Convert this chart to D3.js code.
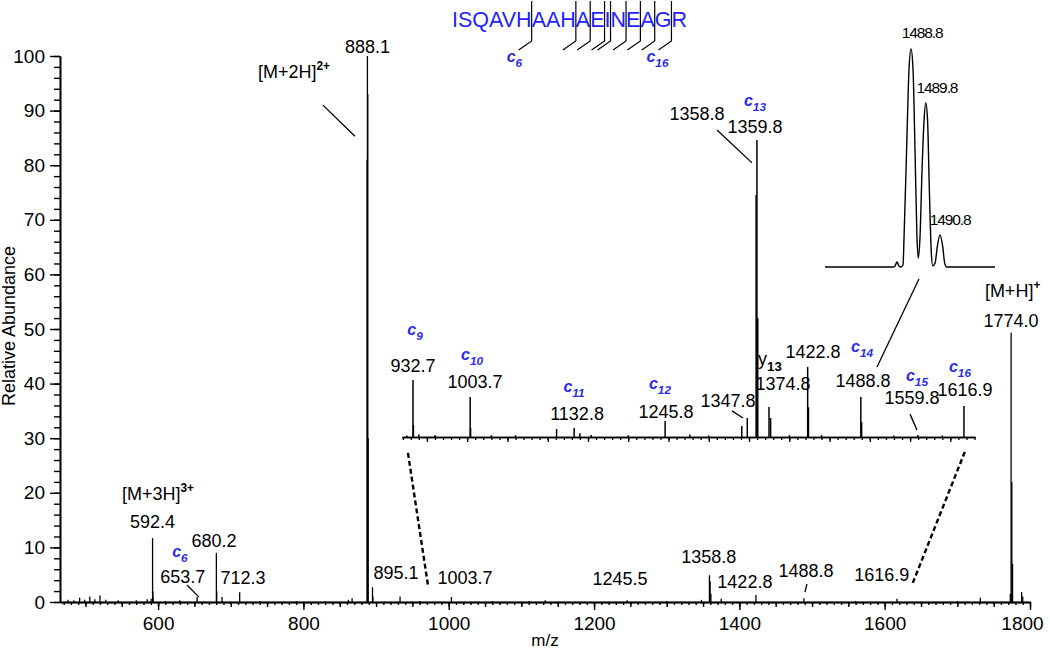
<!DOCTYPE html>
<html><head><meta charset="utf-8">
<script src="https://cdn.jsdelivr.net/npm/d3@7"></script>
<style>
body{margin:0;background:#fff}
svg{display:block}
text{font-family:"Liberation Sans",Arial,Helvetica,sans-serif}
</style>
</head><body>
<svg id="chart" width="1050" height="652"></svg>
<script>
// ---------------- DATA ----------------
// Main spectrum sticks (m/z, relative abundance %)
const mainMz = [476,484,492,499,506,513,520,528,545,570,585,590.4,592.4,592.8,593.1,610,630,653.7,680.2,680.7,688,712.3,740,790,830,862,867,887.6,888.1,888.6,889.1,895.1,895.6,933,960,1003.7,1060,1111,1132.8,1245.5,1300,1347.8,1358.8,1359.8,1360.8,1375,1422.8,1488.8,1560,1616.9,1700,1731.6,1772.9,1774.0,1775.0,1776.0,1788.5,1790];
const mainInt = [0.4,0.3,0.8,0.4,1.0,0.5,1.2,0.4,0.3,0.3,0.5,0.6,11.7,2.0,0.8,0.2,0.3,0.9,9.0,2.0,0.9,1.8,0.2,0.2,0.2,0.4,0.7,81,100,93,30,2.7,1.0,1.0,0.2,0.9,0.2,0.2,0.3,0.3,0.2,0.4,4.9,3.8,1.5,0.6,1.3,0.7,0.2,0.6,0.2,0.8,1.5,49.3,22,7,1.8,1.0];

// Zoomed inset spectrum (m/z 920-1630), intensity relative to 1359.8 = 100
const insetMz = [925,932.7,933.2,940,960,1003.7,1004.2,1030,1060,1111,1132.8,1140,1154,1200,1245.8,1276.6,1300,1341,1347.8,1358.8,1359.8,1360.8,1374.8,1376.8,1400,1422.8,1423.8,1440,1488.8,1489.8,1530,1559.8,1590,1616.9];
const insetInt = [0.5,19.2,4,0.8,0.7,13.5,3,0.6,0.6,2.7,3.0,1.3,0.7,0.6,5.4,0.8,0.5,3.7,6.4,81.5,100,40,10.1,6.4,0.6,23.6,10,0.6,13.5,5,0.5,0.7,0.5,10.4];

// Isotope profile of c14 (m/z, intensity relative to 1488.8 = 100)
const isoMz  = [1482.87,1487.56,1487.70,1487.83,1487.97,1488.11,1488.25,1488.32,1488.49,1488.66,1488.80,1488.94,1489.08,1489.21,1489.30,1489.42,1489.56,1489.70,1489.82,1489.94,1490.06,1490.20,1490.30,1490.46,1490.61,1490.80,1490.99,1491.12,1491.26,1494.59];
const isoInt = [0,0,0.5,2.3,0.5,0,0.9,13.8,52.3,90.4,100,90.4,52.3,13.8,4.1,13.8,44.5,67.4,75.2,67.4,36.7,6.4,0.5,1.8,9.2,14.7,9.2,1.8,0,0];

// Peptide sequence and c-ion cleavage sites
const sequence = "ISQAVHAAHAEINEAGR";
const cleavages = [6,9,10,11,12,13,14,15,16];
const seqLabelled = [6,16];

// Tick values
const xMajorTicks = [600,800,1000,1200,1400,1600,1800];
const yMajorTicks = [0,10,20,30,40,50,60,70,80,90,100];

// Annotations (text, m/z, level in axis units)
const mainLabels = [
  {t:"888.1", mz:888.1, v:100.5},
  {t:"[M+2H]^{2+}", mz:737.5, v:96, a:"start"},
  {t:"[M+3H]^{3+}", mz:550.3, v:18.7, a:"start"},
  {t:"592.4", mz:592.4, v:13.6},
  {t:"653.7", mz:634, v:3.5},
  {t:"680.2", mz:677, v:10.1},
  {t:"712.3", mz:716.8, v:3.3},
  {t:"895.1", mz:927.4, v:4.2},
  {t:"1003.7", mz:1022.3, v:3.3},
  {t:"1245.5", mz:1235.6, v:3.1},
  {t:"1358.8", mz:1358, v:7.1},
  {t:"1422.8", mz:1407.6, v:2.6},
  {t:"1488.8", mz:1491.6, v:4.6},
  {t:"1616.9", mz:1596.1, v:3.8},
  {t:"[M+H]^{+}", mz:1737.9, v:55.9, a:"start"},
  {t:"1774.0", mz:1774, v:50.4},
  {t:"c_{6}", mz:630.1, v:8.2, ion:true}
];
const mainLeaders = [
  [[826.9,91.0],[870.9,85.3]],
  [[639.8,3.1],[656.3,0.9]],
  [[1493,3.3],[1490.3,1.8]]
];
const dashedLinks = [
  [[943.9,27.3],[971.4,3.1]],
  [[1710.3,27.5],[1638.7,3.5]]
];
const insetLabels = [
  {t:"c_{9}", mz:935.2, v:34.3, ion:true},
  {t:"932.7", mz:932.7, v:21.9},
  {t:"c_{10}", mz:1006.0, v:25.9, ion:true},
  {t:"1003.7", mz:1009.7, v:16.5},
  {t:"c_{11}", mz:1132.6, v:15.2, ion:true},
  {t:"1132.8", mz:1136.4, v:5.7},
  {t:"c_{12}", mz:1239.4, v:16.2, ion:true},
  {t:"1245.8", mz:1246.9, v:6.4},
  {t:"1347.8", mz:1323.9, v:10.1},
  {t:"1358.8", mz:1285.4, v:106.7},
  {t:"c_{13}", mz:1357.4, v:111.4, ion:true},
  {t:"1359.8", mz:1357.4, v:102.4},
  {t:"y_{13}", mz:1376.0, v:24.2},
  {t:"1374.8", mz:1392.2, v:15.8},
  {t:"1422.8", mz:1429.4, v:26.6},
  {t:"c_{14}", mz:1490.3, v:28.6, ion:true},
  {t:"1488.8", mz:1491.5, v:16.8},
  {t:"c_{15}", mz:1558.5, v:18.9, ion:true},
  {t:"1559.8", mz:1552.3, v:11.1},
  {t:"c_{16}", mz:1611.9, v:21.9, ion:true},
  {t:"1616.9", mz:1618.2, v:13.8}
];
const insetLeaders = [
  [[1328.8,8.8],[1342.5,6.4]],
  [[1310.2,103.4],[1353.7,92.3]],
  [[1549.9,7.7],[1558.5,2.4]],
  [[1508.9,23.6],[1561.0,53.2]]
];
const isoLabels = [
  {t:"1488.8", mz:1489.56, v:105},
  {t:"1489.8", mz:1490.59, v:79.8},
  {t:"1490.8", mz:1491.49, v:19.3}
];

// ---------------- DRAWING ----------------
const svg = d3.select("#chart");
const BLUE = "#1f1fff", ION = "#2b2bea";
const FONT = "Liberation Sans, Arial, sans-serif";

const x = d3.scaleLinear().domain([465,1800]).range([60,1030]);
const y = d3.scaleLinear().domain([0,100]).range([602,56]);
const xi = d3.scaleLinear().domain([919.04,1630.6]).range([402,975]);
const yi = d3.scaleLinear().domain([0,100]).range([437,140]);
const xs = d3.scaleLinear().domain([1482.87,1494.59]).range([825,995]);
const ys = d3.scaleLinear().domain([0,100]).range([267,49]);

function rich(g, str, px, py, size, anchor, fill, opts={}) {
  const t = g.append("text").attr("x",px).attr("y",py)
    .attr("text-anchor",anchor||"middle").attr("font-size",size).attr("fill",fill||"#000");
  if (opts.italic) t.attr("font-style","italic");
  if (opts.bold) t.attr("font-weight","bold");
  if (opts.ls) t.attr("letter-spacing",opts.ls);
  const parts = str.split(/(\^\{[^}]*\}|_\{[^}]*\})/).filter(s=>s.length);
  let shift = 0;
  parts.forEach(p=>{
    if (p.startsWith("^{")) {
      t.append("tspan").text(p.slice(2,-1)).attr("font-size",size*0.66).attr("dy",-size*0.42 - shift).attr("font-weight","bold");
      shift = -size*0.42;
    } else if (p.startsWith("_{")) {
      t.append("tspan").text(p.slice(2,-1)).attr("font-size",size*0.74).attr("dy",size*0.32 - shift).attr("font-weight","bold");
      shift = size*0.32;
    } else {
      t.append("tspan").text(p).attr("dy",-shift);
      shift = 0;
    }
  });
  return t;
}

// ---- main axes ----
const gx = svg.append("g").attr("transform",`translate(0,${y(0)})`);
gx.call(d3.axisBottom(x).tickValues(d3.range(470,1800,10)).tickSize(3).tickSizeOuter(0).tickFormat(""));
gx.append("g").call(d3.axisBottom(x).tickValues(d3.range(500,1801,50)).tickSize(5).tickSizeOuter(0).tickFormat(""));
const xLab = gx.append("g").call(d3.axisBottom(x).tickValues(xMajorTicks).tickSize(8).tickSizeOuter(0).tickPadding(7).tickFormat(d3.format("d")));
xLab.selectAll("text").attr("font-size",19).attr("fill","#000").attr("font-family",FONT)
  .attr("dx",d=>d===1800?-8:0);
gx.selectAll("path,line").attr("stroke","#000").attr("stroke-width",1.4);
gx.selectAll(".domain").attr("stroke-width",1.6);

const gy = svg.append("g").attr("transform",`translate(${x.range()[0]},0)`);
gy.call(d3.axisLeft(y).tickValues(d3.range(0,101,2)).tickSize(6).tickSizeOuter(0).tickFormat(""));
gy.append("g").call(d3.axisLeft(y).tickValues(yMajorTicks).tickSize(10).tickSizeOuter(0).tickPadding(5).tickFormat(d3.format("d")))
  .selectAll("text").attr("font-size",19).attr("fill","#000").attr("font-family",FONT);
gy.selectAll("path,line").attr("stroke","#000").attr("stroke-width",1.4);
gy.selectAll(".domain").attr("stroke-width",1.6);

svg.append("text").attr("x",(x.range()[0]+x.range()[1])/2).attr("y",646)
  .attr("text-anchor","middle").attr("font-size",17).text("m/z");
svg.append("text").attr("transform","translate(15,326) rotate(-90)")
  .attr("text-anchor","middle").attr("font-size",18).text("Relative Abundance");

// ---- main sticks ----
const mainData = mainMz.map((m,i)=>({mz:m, v:mainInt[i]}));
svg.append("g").selectAll("line").data(mainData).join("line")
  .attr("x1",d=>x(d.mz)).attr("x2",d=>x(d.mz))
  .attr("y1",y(0)).attr("y2",d=>y(d.v))
  .attr("stroke","#000").attr("stroke-width",1.3);

// main labels
const gml = svg.append("g");
mainLabels.forEach(l=>{
  if (l.ion) rich(gml, l.t, x(l.mz), y(l.v), 16, "middle", ION, {italic:true,bold:true});
  else rich(gml, l.t, x(l.mz), y(l.v), 18, l.a||"middle", "#000");
});
svg.append("g").selectAll("line").data(mainLeaders).join("line")
  .attr("x1",d=>x(d[0][0])).attr("y1",d=>y(d[0][1]))
  .attr("x2",d=>x(d[1][0])).attr("y2",d=>y(d[1][1]))
  .attr("stroke","#000").attr("stroke-width",1.3);
svg.append("g").selectAll("line").data(dashedLinks).join("line")
  .attr("x1",d=>x(d[0][0])).attr("y1",d=>y(d[0][1]))
  .attr("x2",d=>x(d[1][0])).attr("y2",d=>y(d[1][1]))
  .attr("stroke","#000").attr("stroke-width",2.4).attr("stroke-dasharray","5,3");

// ---- inset spectrum ----
const gi = svg.append("g");
const giAx = gi.append("g").attr("transform",`translate(0,${yi(0)})`);
giAx.call(d3.axisBottom(xi).tickValues(d3.range(920,1631,10)).tickSize(3).tickSizeOuter(0).tickFormat(""));
giAx.append("g").call(d3.axisBottom(xi).tickValues(d3.range(950,1631,50)).tickSize(5).tickSizeOuter(0).tickFormat(""));
giAx.selectAll("path,line").attr("stroke","#000").attr("stroke-width",1.3);
giAx.selectAll(".domain").attr("stroke-width",1.6);
const insetData = insetMz.map((m,i)=>({mz:m, v:insetInt[i]}));
gi.append("g").selectAll("line").data(insetData).join("line")
  .attr("x1",d=>xi(d.mz)).attr("x2",d=>xi(d.mz))
  .attr("y1",yi(0)).attr("y2",d=>yi(d.v))
  .attr("stroke","#000").attr("stroke-width",1.5);
insetLabels.forEach(l=>{
  if (l.ion) rich(gi, l.t, xi(l.mz), yi(l.v), 16, "middle", ION, {italic:true,bold:true});
  else rich(gi, l.t, xi(l.mz), yi(l.v), 18, "middle", "#000");
});
gi.append("g").selectAll("line").data(insetLeaders).join("line")
  .attr("x1",d=>xi(d[0][0])).attr("y1",d=>yi(d[0][1]))
  .attr("x2",d=>xi(d[1][0])).attr("y2",d=>yi(d[1][1]))
  .attr("stroke","#000").attr("stroke-width",1.3);

// ---- isotope profile ----
const isoData = isoMz.map((m,i)=>({mz:m, v:isoInt[i]}));
svg.append("path").datum(isoData)
  .attr("d", d3.line().x(d=>xs(d.mz)).y(d=>ys(d.v)).curve(d3.curveMonotoneX))
  .attr("fill","none").attr("stroke","#000").attr("stroke-width",1.4);
isoLabels.forEach(l=>rich(svg, l.t, xs(l.mz), ys(l.v), 15.5, "middle", "#000", {ls:-1.1}));

// ---- sequence with fragment marks ----
const gs = svg.append("g");
const seqX = 452, seqY = 27;
const seqText = gs.append("text").attr("x",seqX).attr("y",seqY)
  .attr("font-size",21.5).attr("fill",BLUE).text(sequence);
const node = seqText.node();
cleavages.forEach(k=>{
  const cx = seqX + node.getSubStringLength(0,k);
  gs.append("path").attr("d",`M${cx},1 L${cx},41 L${cx-13},50`)
    .attr("fill","none").attr("stroke","#000").attr("stroke-width",1.2);
  if (seqLabelled.includes(k)) {
    rich(gs, `c_{${k}}`, cx-25, 62, 16, "start", ION, {italic:true,bold:true});
  }
});
</script>
</body></html>
